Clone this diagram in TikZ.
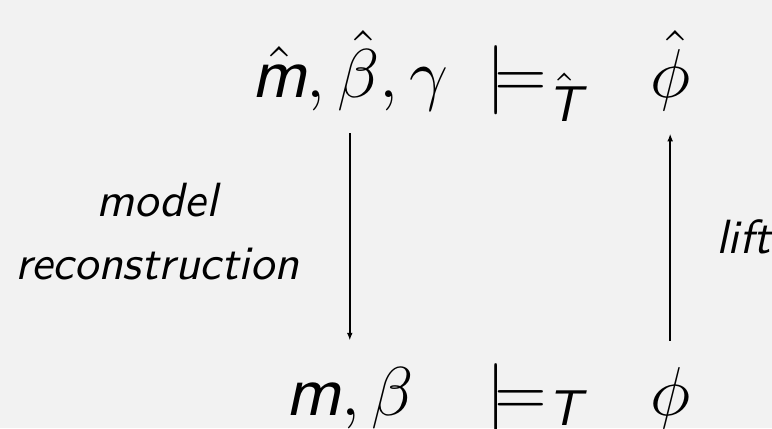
\documentclass[tikz,border=0pt]{standalone}
\usepackage{amsmath,amssymb}
\usepackage{tikz}
\usetikzlibrary{arrows.meta}
\definecolor{bggray}{RGB}{242,242,242}
\newcommand{\sfit}[1]{\textsf{\itshape #1}}

\begin{document}
\begin{tikzpicture}[
  formula/.style={font=\fontsize{15}{18}\selectfont,anchor=base},
  caption/.style={font=\fontsize{10}{13.1}\selectfont\sffamily\itshape},
  mapto/.style={-{Latex[length=1.6pt,width=1.2pt]},line width=.3pt}]
 \useasboundingbox[fill=bggray] (0,0) rectangle (5.65,3.133);
 % upper row
 \node[formula] (hatctx) at (2.56,2.423) {$\hat{\sfit{m}},\hat{\beta},\gamma$};
 \node[formula,anchor=base west,inner sep=0pt] (hatent) at (3.555,2.423) {$\models_{\hat{\sfit{T}}}$};
 \node[formula] (hatphi) at (4.905,2.423) {$\hat{\phi}$};
 % lower row
 \node[formula] (ctx) at (2.56,.095) {$\sfit{m},\beta$};
 \node[formula,anchor=base west,inner sep=0pt] (ent) at (3.555,.095) {$\models_{\sfit{T}}$};
 \node[formula] (phi) at (4.905,.095) {$\phi$};
 % maps
 \draw[mapto,shorten <=1.2pt,shorten >=2pt] (hatctx) -- (ctx);
 \draw[mapto,shorten <=2pt,shorten >=1.3pt] (phi) -- (hatphi);
 \node[caption,align=center] (recon) at (1.149,1.435) {model\\reconstruction};
 \node[caption,anchor=base west] (lift) at (5.117,1.281) {lift};
\end{tikzpicture}
\end{document}
